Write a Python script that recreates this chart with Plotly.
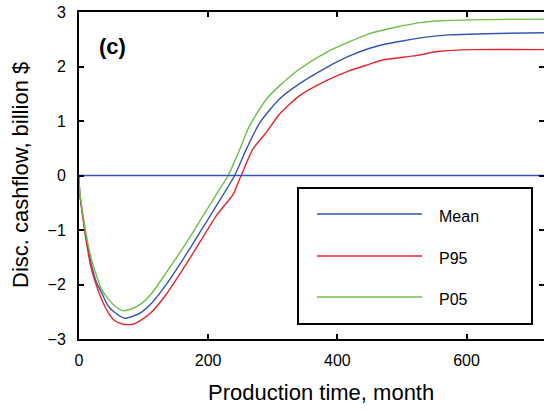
import plotly.graph_objects as go

# Discounted cashflow over production time (billion $)
months_p05 = [0, 1, 6.2, 11.4, 19, 27, 34.6, 45, 55, 68, 81, 96.5, 112, 135.8, 161.5,
              187.4, 213, 231, 249, 264, 290, 310, 341, 383, 418, 449, 490, 531, 562,
              624, 720]
cash_p05 = [0.0, -0.30, -0.73, -1.10, -1.53, -1.83, -2.08, -2.26, -2.39, -2.48, -2.45,
            -2.35, -2.17, -1.77, -1.32, -0.83, -0.34, 0.0, 0.48, 0.91, 1.40, 1.64, 1.95,
            2.26, 2.45, 2.60, 2.72, 2.81, 2.84, 2.86, 2.87]

months_mean = [0, 1, 6.2, 11.4, 19, 27, 34.6, 45, 55, 70.8, 83.6, 96.5, 112, 135.8, 161.5,
               187.4, 213, 241, 259, 280, 310, 341, 383, 418, 449, 470, 537, 573, 666, 720]
cash_mean = [0.0, -0.30, -0.76, -1.16, -1.62, -1.96, -2.14, -2.39, -2.51, -2.62, -2.58,
             -2.51, -2.35, -1.99, -1.53, -1.04, -0.55, 0.0, 0.48, 0.97, 1.40, 1.68, 1.98,
             2.19, 2.33, 2.40, 2.54, 2.58, 2.61, 2.62]

months_p95 = [0, 1, 6.2, 11.4, 19, 27, 34.6, 45, 55, 68, 83.6, 99, 112, 135.8, 161.5,
              187.4, 213, 239, 251, 269, 290, 310, 341, 383, 418, 449, 470, 522, 558,
              609, 720]
cash_p95 = [0.0, -0.32, -0.79, -1.22, -1.71, -2.02, -2.26, -2.51, -2.66, -2.73, -2.73,
            -2.63, -2.51, -2.17, -1.71, -1.22, -0.73, -0.34, 0.0, 0.48, 0.79, 1.12, 1.46,
            1.74, 1.92, 2.04, 2.12, 2.20, 2.28, 2.31, 2.31]

series = [
    ("Mean", months_mean, cash_mean, "#3556b0"),
    ("P95", months_p95, cash_p95, "#e4262c"),
    ("P05", months_p05, cash_p05, "#6cc04a"),
]

x_range = [0, 720]
y_range = [-3, 3]
x_ticks = [0, 200, 400, 600]
y_ticks = [-3, -2, -1, 0, 1, 2, 3]

FONT = "Liberation Sans, Arial, sans-serif"

fig = go.Figure()

# zero reference line
fig.add_trace(go.Scatter(x=x_range, y=[0, 0], mode="lines",
                         line=dict(color="#3556b0", width=1.5),
                         showlegend=False, hoverinfo="skip", yaxis="y2"))

for name, xs, ys, color in series:
    fig.add_trace(go.Scatter(x=xs, y=ys, mode="lines", name=name,
                             line=dict(color=color, width=1.4, shape="spline",
                                       smoothing=0.6),
                             showlegend=False))

# hand-drawn legend box
L, R, T, B = 79, 544, 12, 339
W, H = R - L, B - T


def px_x(p):
    return (p - L) / W


def px_y(p):
    return (B - p) / H


shapes = [dict(type="rect", xref="paper", yref="paper",
               x0=px_x(298), x1=px_x(532), y0=px_y(324), y1=px_y(188),
               line=dict(color="black", width=2), fillcolor="white", layer="above")]
annotations = []
legend_rows = [214, 256, 297]
for (name, _, _, color), row in zip(series, legend_rows):
    shapes.append(dict(type="line", xref="paper", yref="paper",
                       x0=px_x(317), x1=px_x(422), y0=px_y(row), y1=px_y(row),
                       line=dict(color=color, width=1.5), layer="above"))
    annotations.append(dict(text=name, xref="paper", yref="paper",
                            x=px_x(437), y=px_y(row + 2), xanchor="left", yanchor="middle",
                            showarrow=False, font=dict(size=16, color="black", family=FONT)))

annotations += [
    dict(text="<b>(c)</b>", xref="paper", yref="paper", x=px_x(112), y=px_y(47),
         xanchor="center", yanchor="middle", showarrow=False,
         font=dict(size=22, color="black", family=FONT)),
    dict(text="Production time, month", xref="paper", yref="paper",
         x=px_x(321), y=px_y(393), xanchor="center", yanchor="middle", showarrow=False,
         font=dict(size=22, color="black", family=FONT)),
    dict(text="Disc. cashflow, billion $", xref="paper", yref="paper",
         x=px_x(20), y=px_y(175), xanchor="center", yanchor="middle", showarrow=False,
         textangle=-90, font=dict(size=22, color="black", family=FONT)),
]

fig.update_layout(
    width=544, height=410,
    margin=dict(l=L, r=544 - R, t=T, b=410 - B, pad=0),
    paper_bgcolor="white", plot_bgcolor="white",
    font=dict(family=FONT, size=16, color="black"),
    shapes=shapes, annotations=annotations,
    xaxis=dict(range=x_range, tickvals=x_ticks, showgrid=False, zeroline=False,
               showline=True, linecolor="black", linewidth=2, mirror="ticks",
               ticks="inside", ticklen=5, tickwidth=1.5, tickcolor="black",
               ticklabelstandoff=6, tickfont=dict(size=16)),
    yaxis=dict(range=y_range, tickvals=y_ticks, showgrid=False, zeroline=False,
               showline=True, linecolor="black", linewidth=2,
               ticks="inside", ticklen=5, tickwidth=1.5, tickcolor="black",
               ticklabelstandoff=8, tickfont=dict(size=16)),
    yaxis2=dict(range=y_range, tickvals=y_ticks, overlaying="y", side="right",
                showgrid=False, zeroline=False, showline=False, showticklabels=False,
                ticks="inside", ticklen=5, tickwidth=1.5, tickcolor="black"),
)

fig.write_html("out.html")
